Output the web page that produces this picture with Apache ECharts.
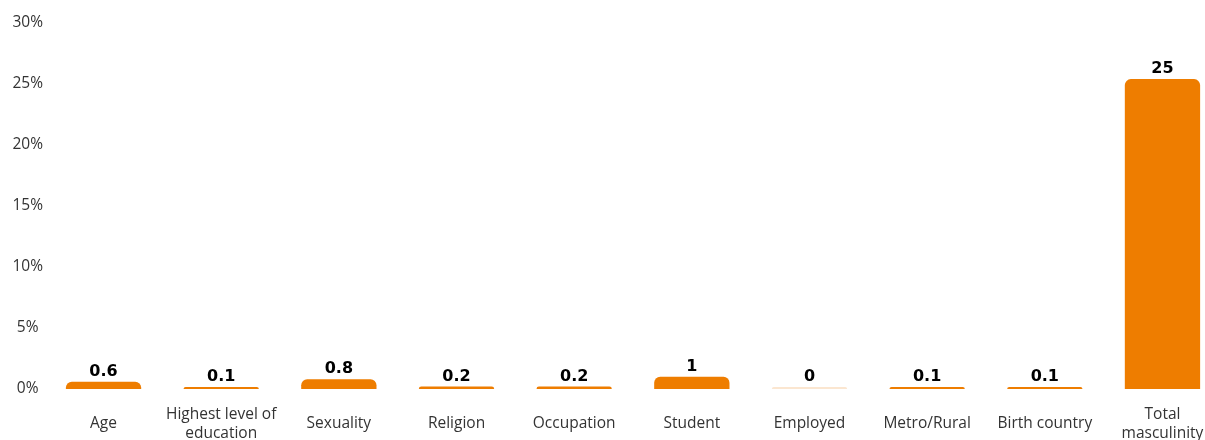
<!DOCTYPE html>
<html>
<head>
<meta charset="utf-8">
<script src="https://cdn.jsdelivr.net/npm/echarts@6/dist/echarts.min.js"></script>
<style>
html,body{margin:0;padding:0;background:#fff;}
#chart{width:1205px;height:440px;}
</style>
</head>
<body>
<div id="chart"></div>
<script>
var categories = ['Age', 'Highest level of\neducation', 'Sexuality', 'Religion', 'Occupation', 'Student', 'Employed', 'Metro/Rural', 'Birth country', 'Total\nmasculinity'];
var values = [0.6, 0.1, 0.8, 0.2, 0.2, 1, 0, 0.1, 0.1, 25.4];
var valueLabels = ['0.6', '0.1', '0.8', '0.2', '0.2', '1', '0', '0.1', '0.1', '25'];
var yTicks = [0, 5, 10, 15, 20, 25, 30];

var chart = echarts.init(document.getElementById('chart'));
var data = values.map(function (v, i) {
  var item = { value: v };
  if (v === 0) item.itemStyle = { color: '#fbe6d0' };
  return item;
});
chart.setOption({
  animation: false,
  grid: { left: 44.7, right: -16.3, top: 23, bottom: 51, containLabel: false, outerBoundsMode: 'none' },
  xAxis: {
    type: 'category',
    data: categories,
    axisLine: { show: false },
    axisTick: { show: false },
    axisLabel: {
      interval: 0,
      margin: 35,
      verticalAlign: 'middle',
      lineHeight: 19,
      color: '#333',
      fontFamily: 'Open Sans',
      fontSize: 15.5
    }
  },
  yAxis: {
    type: 'value',
    min: yTicks[0],
    max: yTicks[yTicks.length - 1],
    interval: 5,
    splitLine: { show: false },
    axisLine: { show: false },
    axisTick: { show: false },
    axisLabel: {
      margin: 17,
      align: 'center',
      color: '#333',
      fontFamily: 'Open Sans',
      fontSize: 15.5,
      formatter: function (v) { return v + '%'; }
    }
  },
  series: [{
    type: 'bar',
    data: data,
    barWidth: '64%',
    barMinHeight: 2,
    itemStyle: { color: '#ee7d00', borderRadius: [6, 6, 0, 0] },
    label: {
      show: true,
      position: 'top',
      distance: 2,
      color: '#000',
      fontFamily: 'DejaVu Sans',
      fontWeight: 'bold',
      fontSize: 16,
      formatter: function (p) { return valueLabels[p.dataIndex]; }
    }
  }]
});
</script>
</body>
</html>
